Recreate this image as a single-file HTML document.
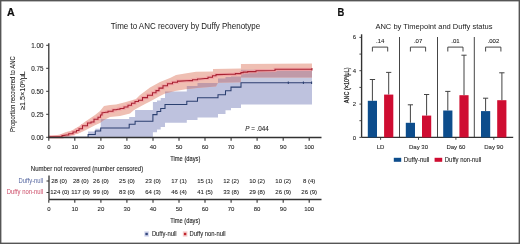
<!DOCTYPE html>
<html><head><meta charset="utf-8"><style>
html,body{margin:0;padding:0;background:#fff;}
svg{display:block;}
text{font-family:"Liberation Sans", sans-serif;}
</style></head><body>
<svg width="520" height="244" viewBox="0 0 520 244">
<defs><filter id="bl" filterUnits="userSpaceOnUse" x="0" y="0" width="520" height="244"><feGaussianBlur stdDeviation="0.3"/></filter></defs>
<rect width="520" height="244" fill="#fff"/>
<g filter="url(#bl)">
<text x="6.9" y="15.9" font-size="10.8" text-anchor="start" fill="#111" font-weight="bold" textLength="7.7" lengthAdjust="spacingAndGlyphs" stroke="#111" stroke-width="0.2">A</text>
<text x="110.8" y="29.3" font-size="8.2" text-anchor="start" fill="#1a1a1a" textLength="149.4" lengthAdjust="spacingAndGlyphs" stroke="none">Time to ANC recovery by Duffy Phenotype</text>
<defs><clipPath id="cb"><polygon points="88.1,131.5 95.3,131.5 95.3,128.7 100.7,128.7 100.7,119.0 129.2,119.0 129.2,117.0 135.1,117.0 135.1,110.0 152.9,110.0 152.9,102.0 157.0,102.0 157.0,100.5 160.7,100.5 160.7,98.0 165.0,98.0 165.0,91.5 186.8,91.5 186.8,86.0 197.5,86.0 197.5,83.0 218.0,83.0 218.0,78.5 225.5,78.5 225.5,77.0 231.0,77.0 231.0,76.5 241.0,76.5 241.0,69.8 312.0,69.8 312.0,104.4 241.0,104.4 241.0,108.0 231.0,108.0 231.0,110.3 225.5,110.3 225.5,114.0 218.0,114.0 218.0,117.6 197.5,117.6 197.5,120.0 186.8,120.0 186.8,122.7 165.0,122.7 165.0,126.9 160.7,126.9 160.7,129.6 157.0,129.6 157.0,132.2 152.9,132.2 152.9,137.3 135.1,137.3 135.1,137.3 129.2,137.3 129.2,137.3 100.7,137.3 100.7,137.3 95.3,137.3 95.3,137.3 88.1,137.3"/></clipPath></defs>
<defs><filter id="bb" filterUnits="userSpaceOnUse" x="40" y="40" width="290" height="105"><feGaussianBlur stdDeviation="0.6"/></filter></defs>
<g filter="url(#bb)">
<polygon points="88.1,131.5 95.3,131.5 95.3,128.7 100.7,128.7 100.7,119.0 129.2,119.0 129.2,117.0 135.1,117.0 135.1,110.0 152.9,110.0 152.9,102.0 157.0,102.0 157.0,100.5 160.7,100.5 160.7,98.0 165.0,98.0 165.0,91.5 186.8,91.5 186.8,86.0 197.5,86.0 197.5,83.0 218.0,83.0 218.0,78.5 225.5,78.5 225.5,77.0 231.0,77.0 231.0,76.5 241.0,76.5 241.0,69.8 312.0,69.8 312.0,104.4 241.0,104.4 241.0,108.0 231.0,108.0 231.0,110.3 225.5,110.3 225.5,114.0 218.0,114.0 218.0,117.6 197.5,117.6 197.5,120.0 186.8,120.0 186.8,122.7 165.0,122.7 165.0,126.9 160.7,126.9 160.7,129.6 157.0,129.6 157.0,132.2 152.9,132.2 152.9,137.3 135.1,137.3 135.1,137.3 129.2,137.3 129.2,137.3 100.7,137.3 100.7,137.3 95.3,137.3 95.3,137.3 88.1,137.3" fill="#bec2de"/>
<rect x="240.9" y="77.5" width="71.1" height="5.3" fill="#c6cae0"/>
<polygon points="48.8,137.3 50.0,136.3 60.0,134.4 66.0,132.1 72.0,130.4 75.0,128.6 78.0,127.0 85.0,121.8 95.0,115.0 100.0,111.0 104.0,106.0 110.0,105.0 116.0,104.5 125.0,102.2 136.0,99.0 140.0,95.0 150.0,87.5 160.0,82.0 170.0,78.0 176.0,75.0 185.0,73.5 196.0,71.8 213.0,71.5 213.0,69.1 240.9,68.5 240.9,64.0 312.0,63.5 312.0,77.5 240.9,77.5 240.9,82.3 218.0,82.8 216.0,86.5 197.0,88.0 186.0,89.2 175.0,91.0 165.0,93.5 160.0,96.0 150.0,101.5 145.0,104.0 134.0,110.0 130.0,113.5 120.0,116.0 110.0,117.0 104.0,120.0 100.0,123.0 95.0,125.2 85.0,130.4 78.0,133.8 75.0,134.5 66.0,137.0 48.8,137.3" fill="#efbfb3"/>
<polygon points="48.8,137.3 50.0,136.3 60.0,134.4 66.0,132.1 72.0,130.4 75.0,128.6 78.0,127.0 85.0,121.8 95.0,115.0 100.0,111.0 104.0,106.0 110.0,105.0 116.0,104.5 125.0,102.2 136.0,99.0 140.0,95.0 150.0,87.5 160.0,82.0 170.0,78.0 176.0,75.0 185.0,73.5 196.0,71.8 213.0,71.5 213.0,69.1 240.9,68.5 240.9,64.0 312.0,63.5 312.0,77.5 240.9,77.5 240.9,82.3 218.0,82.8 216.0,86.5 197.0,88.0 186.0,89.2 175.0,91.0 165.0,93.5 160.0,96.0 150.0,101.5 145.0,104.0 134.0,110.0 130.0,113.5 120.0,116.0 110.0,117.0 104.0,120.0 100.0,123.0 95.0,125.2 85.0,130.4 78.0,133.8 75.0,134.5 66.0,137.0 48.8,137.3" fill="#c09aa8" clip-path="url(#cb)"/>
</g>
<polyline points="48.8,137.3 88.1,137.3 88.1,134.4 95.3,134.4 95.3,131.0 100.7,131.0 100.7,127.9 129.2,127.9 129.2,124.2 135.1,124.2 135.1,121.3 152.9,121.3 152.9,114.6 157.0,114.6 157.0,111.5 160.7,111.5 160.7,108.5 165.0,108.5 165.0,104.5 186.8,104.5 186.8,101.2 197.5,101.2 197.5,97.7 218.0,97.7 218.0,94.7 225.5,94.7 225.5,90.7 231.0,90.7 231.0,87.1 241.0,87.1 241.0,82.8 312.0,82.8" fill="none" stroke="#2c3f70" stroke-width="1.05"/>
<polyline points="48.8,137.3 50.0,136.8 61.0,136.8 62.0,136.8 62.0,135.6 63.0,135.6 66.4,135.0 68.7,135.0 68.7,133.8 71.0,133.8 73.0,133.8 73.0,132.0 75.0,132.0 76.5,132.0 76.5,130.4 78.0,130.4 79.0,130.4 79.0,128.7 80.0,128.7 82.5,128.7 82.5,125.8 85.0,125.8 87.5,125.8 87.5,122.9 90.0,122.9 91.0,122.9 91.0,122.0 92.0,122.0 94.0,122.0 94.0,119.2 96.0,119.2 98.0,119.2 98.0,117.2 100.0,117.2 100.5,117.2 100.5,115.0 101.0,115.0 102.0,115.0 102.0,112.8 103.0,112.8 106.0,112.2 108.0,112.2 108.0,111.3 110.0,111.3 113.0,111.3 113.0,109.8 116.0,109.8 118.0,109.2 120.0,109.2 120.0,108.4 122.0,108.4 124.0,108.4 124.0,107.0 126.0,107.0 128.0,107.0 128.0,105.2 130.0,105.2 131.5,105.2 131.5,103.3 133.0,103.3 135.0,103.3 135.0,101.5 137.0,101.5 138.5,101.5 138.5,100.2 140.0,100.2 142.5,100.2 142.5,97.6 145.0,97.6 147.5,97.6 147.5,95.2 150.0,95.2 152.5,95.2 152.5,92.8 155.0,92.8 156.0,92.8 156.0,90.6 157.0,90.6 159.0,90.6 159.0,88.1 161.0,88.1 163.0,88.1 163.0,85.8 165.0,85.8 167.5,85.8 167.5,83.7 170.0,83.7 172.5,83.7 172.5,82.3 175.0,82.3 177.5,82.3 177.5,81.1 180.0,81.1 190.0,80.6 192.5,80.6 192.5,79.8 195.0,79.8 197.5,79.8 197.5,79.0 200.0,79.0 205.0,78.5 208.0,78.5 208.0,77.3 211.0,77.3 212.5,77.3 212.5,75.8 214.0,75.8 216.0,75.8 216.0,74.6 218.0,74.6 230.0,74.3 235.4,74.3 235.4,73.6 240.9,73.6 240.9,72.6 243.2,72.6 243.2,72.1 247.7,72.1 247.7,71.6 250.0,71.6 256.0,71.6 256.0,70.7 262.0,70.7 275.0,70.5 275.0,69.3 312.0,69.3" fill="none" stroke="#f2a0a4" stroke-opacity="0.8" stroke-width="3.2"/>
<polyline points="48.8,137.3 50.0,136.8 61.0,136.8 62.0,136.8 62.0,135.6 63.0,135.6 66.4,135.0 68.7,135.0 68.7,133.8 71.0,133.8 73.0,133.8 73.0,132.0 75.0,132.0 76.5,132.0 76.5,130.4 78.0,130.4 79.0,130.4 79.0,128.7 80.0,128.7 82.5,128.7 82.5,125.8 85.0,125.8 87.5,125.8 87.5,122.9 90.0,122.9 91.0,122.9 91.0,122.0 92.0,122.0 94.0,122.0 94.0,119.2 96.0,119.2 98.0,119.2 98.0,117.2 100.0,117.2 100.5,117.2 100.5,115.0 101.0,115.0 102.0,115.0 102.0,112.8 103.0,112.8 106.0,112.2 108.0,112.2 108.0,111.3 110.0,111.3 113.0,111.3 113.0,109.8 116.0,109.8 118.0,109.2 120.0,109.2 120.0,108.4 122.0,108.4 124.0,108.4 124.0,107.0 126.0,107.0 128.0,107.0 128.0,105.2 130.0,105.2 131.5,105.2 131.5,103.3 133.0,103.3 135.0,103.3 135.0,101.5 137.0,101.5 138.5,101.5 138.5,100.2 140.0,100.2 142.5,100.2 142.5,97.6 145.0,97.6 147.5,97.6 147.5,95.2 150.0,95.2 152.5,95.2 152.5,92.8 155.0,92.8 156.0,92.8 156.0,90.6 157.0,90.6 159.0,90.6 159.0,88.1 161.0,88.1 163.0,88.1 163.0,85.8 165.0,85.8 167.5,85.8 167.5,83.7 170.0,83.7 172.5,83.7 172.5,82.3 175.0,82.3 177.5,82.3 177.5,81.1 180.0,81.1 190.0,80.6 192.5,80.6 192.5,79.8 195.0,79.8 197.5,79.8 197.5,79.0 200.0,79.0 205.0,78.5 208.0,78.5 208.0,77.3 211.0,77.3 212.5,77.3 212.5,75.8 214.0,75.8 216.0,75.8 216.0,74.6 218.0,74.6 230.0,74.3 235.4,74.3 235.4,73.6 240.9,73.6 240.9,72.6 243.2,72.6 243.2,72.1 247.7,72.1 247.7,71.6 250.0,71.6 256.0,71.6 256.0,70.7 262.0,70.7 275.0,70.5 275.0,69.3 312.0,69.3" fill="none" stroke="#a82232" stroke-width="1.05"/>
<line x1="288.3" y1="81.6" x2="288.3" y2="84" stroke="#2c3f70" stroke-width="1.05"/>
<line x1="303.4" y1="81.6" x2="303.4" y2="84" stroke="#2c3f70" stroke-width="1.05"/>
<line x1="311.6" y1="81.6" x2="311.6" y2="84" stroke="#2c3f70" stroke-width="1.05"/>
<line x1="312" y1="68" x2="312" y2="70.4" stroke="#a82232" stroke-width="1.05"/>
<line x1="48.8" y1="43.3" x2="48.8" y2="137.5" stroke="#333" stroke-width="1.3"/>
<line x1="48.2" y1="137.5" x2="321.5" y2="137.5" stroke="#333" stroke-width="1.3"/>
<line x1="46.2" y1="137.3" x2="48.8" y2="137.3" stroke="#333" stroke-width="1"/>
<text x="43.4" y="139.5" font-size="6.3" text-anchor="end" fill="#222" stroke="#222" stroke-width="0.08">0.00</text>
<line x1="46.2" y1="114.3" x2="48.8" y2="114.3" stroke="#333" stroke-width="1"/>
<text x="43.4" y="116.50000000000001" font-size="6.3" text-anchor="end" fill="#222" stroke="#222" stroke-width="0.08">0.25</text>
<line x1="46.2" y1="91.3" x2="48.8" y2="91.3" stroke="#333" stroke-width="1"/>
<text x="43.4" y="93.50000000000001" font-size="6.3" text-anchor="end" fill="#222" stroke="#222" stroke-width="0.08">0.50</text>
<line x1="46.2" y1="68.3" x2="48.8" y2="68.3" stroke="#333" stroke-width="1"/>
<text x="43.4" y="70.50000000000001" font-size="6.3" text-anchor="end" fill="#222" stroke="#222" stroke-width="0.08">0.75</text>
<line x1="46.2" y1="45.3" x2="48.8" y2="45.3" stroke="#333" stroke-width="1"/>
<text x="43.4" y="47.500000000000014" font-size="6.3" text-anchor="end" fill="#222" stroke="#222" stroke-width="0.08">1.00</text>
<line x1="48.8" y1="137.5" x2="48.8" y2="140.8" stroke="#333" stroke-width="1.1"/>
<text x="48.8" y="149.1" font-size="6" text-anchor="middle" fill="#222" stroke="#222" stroke-width="0.08">0</text>
<line x1="74.8" y1="137.5" x2="74.8" y2="140.8" stroke="#333" stroke-width="1.1"/>
<text x="74.8" y="149.1" font-size="6" text-anchor="middle" fill="#222" stroke="#222" stroke-width="0.08">10</text>
<line x1="100.9" y1="137.5" x2="100.9" y2="140.8" stroke="#333" stroke-width="1.1"/>
<text x="100.9" y="149.1" font-size="6" text-anchor="middle" fill="#222" stroke="#222" stroke-width="0.08">20</text>
<line x1="126.9" y1="137.5" x2="126.9" y2="140.8" stroke="#333" stroke-width="1.1"/>
<text x="126.9" y="149.1" font-size="6" text-anchor="middle" fill="#222" stroke="#222" stroke-width="0.08">30</text>
<line x1="153.0" y1="137.5" x2="153.0" y2="140.8" stroke="#333" stroke-width="1.1"/>
<text x="153.0" y="149.1" font-size="6" text-anchor="middle" fill="#222" stroke="#222" stroke-width="0.08">40</text>
<line x1="179.0" y1="137.5" x2="179.0" y2="140.8" stroke="#333" stroke-width="1.1"/>
<text x="179.0" y="149.1" font-size="6" text-anchor="middle" fill="#222" stroke="#222" stroke-width="0.08">50</text>
<line x1="205.0" y1="137.5" x2="205.0" y2="140.8" stroke="#333" stroke-width="1.1"/>
<text x="205.0" y="149.1" font-size="6" text-anchor="middle" fill="#222" stroke="#222" stroke-width="0.08">60</text>
<line x1="231.1" y1="137.5" x2="231.1" y2="140.8" stroke="#333" stroke-width="1.1"/>
<text x="231.1" y="149.1" font-size="6" text-anchor="middle" fill="#222" stroke="#222" stroke-width="0.08">70</text>
<line x1="257.1" y1="137.5" x2="257.1" y2="140.8" stroke="#333" stroke-width="1.1"/>
<text x="257.1" y="149.1" font-size="6" text-anchor="middle" fill="#222" stroke="#222" stroke-width="0.08">80</text>
<line x1="283.2" y1="137.5" x2="283.2" y2="140.8" stroke="#333" stroke-width="1.1"/>
<text x="283.2" y="149.1" font-size="6" text-anchor="middle" fill="#222" stroke="#222" stroke-width="0.08">90</text>
<line x1="309.2" y1="137.5" x2="309.2" y2="140.8" stroke="#333" stroke-width="1.1"/>
<text x="309.2" y="149.1" font-size="6" text-anchor="middle" fill="#222" stroke="#222" stroke-width="0.08">100</text>
<text x="185.3" y="161.0" font-size="7.9" text-anchor="middle" fill="#222" textLength="30" lengthAdjust="spacingAndGlyphs" stroke="#222" stroke-width="0.12">Time (days)</text>
<text x="245.2" y="131.0" font-size="6.4" text-anchor="start" fill="#222" textLength="23.6" lengthAdjust="spacingAndGlyphs" stroke="#222" stroke-width="0.08"><tspan font-style="italic">P</tspan> = .044</text>
<g transform="translate(14.6,94.1) rotate(-90)"><text x="0" y="0" font-size="7.4" text-anchor="middle" fill="#222" textLength="75.6" lengthAdjust="spacingAndGlyphs" stroke="#222" stroke-width="0.08">Proportion recovered to ANC</text></g>
<g transform="translate(24.9,90.6) rotate(-90)"><text x="0" y="0" font-size="7.3" text-anchor="middle" fill="#222" textLength="39" lengthAdjust="spacingAndGlyphs" stroke="#222" stroke-width="0.08">≥1.5×10<tspan font-size="4.4" dy="-2.2">9</tspan><tspan dy="2.2">/μL</tspan></text></g>
<text x="30.8" y="170.8" font-size="6.3" text-anchor="start" fill="#222" textLength="112.4" lengthAdjust="spacingAndGlyphs" stroke="#222" stroke-width="0.08">Number not recovered (number censored)</text>
<text x="43.2" y="182.8" font-size="6.6" text-anchor="end" fill="#5566a0" textLength="24.6" lengthAdjust="spacingAndGlyphs" stroke="none">Duffy-null</text>
<text x="43.2" y="194.1" font-size="6.6" text-anchor="end" fill="#cc4a66" textLength="36.4" lengthAdjust="spacingAndGlyphs" stroke="none">Duffy non-null</text>
<line x1="49" y1="175.5" x2="49" y2="199.5" stroke="#333" stroke-width="1.3"/>
<line x1="49" y1="199.5" x2="321.5" y2="199.5" stroke="#333" stroke-width="1.3"/>
<line x1="46.5" y1="181" x2="49" y2="181" stroke="#333" stroke-width="1"/>
<line x1="46.5" y1="192.5" x2="49" y2="192.5" stroke="#333" stroke-width="1"/>
<text x="59.1" y="182.5" font-size="6" text-anchor="middle" fill="#222" stroke="#222" stroke-width="0.08">28 (0)</text>
<text x="59.8" y="193.8" font-size="6" text-anchor="middle" fill="#222" stroke="#222" stroke-width="0.08">124 (0)</text>
<text x="80.8" y="182.5" font-size="6" text-anchor="middle" fill="#222" stroke="#222" stroke-width="0.08">28 (0)</text>
<text x="80.6" y="193.8" font-size="6" text-anchor="middle" fill="#222" stroke="#222" stroke-width="0.08">117 (0)</text>
<text x="100.9" y="182.5" font-size="6" text-anchor="middle" fill="#222" stroke="#222" stroke-width="0.08">26 (0)</text>
<text x="100.9" y="193.8" font-size="6" text-anchor="middle" fill="#222" stroke="#222" stroke-width="0.08">99 (0)</text>
<text x="126.9" y="182.5" font-size="6" text-anchor="middle" fill="#222" stroke="#222" stroke-width="0.08">25 (0)</text>
<text x="126.9" y="193.8" font-size="6" text-anchor="middle" fill="#222" stroke="#222" stroke-width="0.08">83 (0)</text>
<text x="153.0" y="182.5" font-size="6" text-anchor="middle" fill="#222" stroke="#222" stroke-width="0.08">23 (0)</text>
<text x="153.0" y="193.8" font-size="6" text-anchor="middle" fill="#222" stroke="#222" stroke-width="0.08">64 (3)</text>
<text x="179.0" y="182.5" font-size="6" text-anchor="middle" fill="#222" stroke="#222" stroke-width="0.08">17 (1)</text>
<text x="179.0" y="193.8" font-size="6" text-anchor="middle" fill="#222" stroke="#222" stroke-width="0.08">46 (4)</text>
<text x="205.0" y="182.5" font-size="6" text-anchor="middle" fill="#222" stroke="#222" stroke-width="0.08">15 (1)</text>
<text x="205.0" y="193.8" font-size="6" text-anchor="middle" fill="#222" stroke="#222" stroke-width="0.08">41 (5)</text>
<text x="231.1" y="182.5" font-size="6" text-anchor="middle" fill="#222" stroke="#222" stroke-width="0.08">12 (2)</text>
<text x="231.1" y="193.8" font-size="6" text-anchor="middle" fill="#222" stroke="#222" stroke-width="0.08">33 (8)</text>
<text x="257.1" y="182.5" font-size="6" text-anchor="middle" fill="#222" stroke="#222" stroke-width="0.08">10 (2)</text>
<text x="257.1" y="193.8" font-size="6" text-anchor="middle" fill="#222" stroke="#222" stroke-width="0.08">29 (8)</text>
<text x="283.2" y="182.5" font-size="6" text-anchor="middle" fill="#222" stroke="#222" stroke-width="0.08">10 (2)</text>
<text x="283.2" y="193.8" font-size="6" text-anchor="middle" fill="#222" stroke="#222" stroke-width="0.08">26 (9)</text>
<text x="309.2" y="182.5" font-size="6" text-anchor="middle" fill="#222" stroke="#222" stroke-width="0.08">8 (4)</text>
<text x="309.2" y="193.8" font-size="6" text-anchor="middle" fill="#222" stroke="#222" stroke-width="0.08">26 (9)</text>
<line x1="48.8" y1="199.5" x2="48.8" y2="202.8" stroke="#333" stroke-width="1.1"/>
<text x="48.8" y="210.8" font-size="6" text-anchor="middle" fill="#222" stroke="#222" stroke-width="0.08">0</text>
<line x1="74.8" y1="199.5" x2="74.8" y2="202.8" stroke="#333" stroke-width="1.1"/>
<text x="74.8" y="210.8" font-size="6" text-anchor="middle" fill="#222" stroke="#222" stroke-width="0.08">10</text>
<line x1="100.9" y1="199.5" x2="100.9" y2="202.8" stroke="#333" stroke-width="1.1"/>
<text x="100.9" y="210.8" font-size="6" text-anchor="middle" fill="#222" stroke="#222" stroke-width="0.08">20</text>
<line x1="126.9" y1="199.5" x2="126.9" y2="202.8" stroke="#333" stroke-width="1.1"/>
<text x="126.9" y="210.8" font-size="6" text-anchor="middle" fill="#222" stroke="#222" stroke-width="0.08">30</text>
<line x1="153.0" y1="199.5" x2="153.0" y2="202.8" stroke="#333" stroke-width="1.1"/>
<text x="153.0" y="210.8" font-size="6" text-anchor="middle" fill="#222" stroke="#222" stroke-width="0.08">40</text>
<line x1="179.0" y1="199.5" x2="179.0" y2="202.8" stroke="#333" stroke-width="1.1"/>
<text x="179.0" y="210.8" font-size="6" text-anchor="middle" fill="#222" stroke="#222" stroke-width="0.08">50</text>
<line x1="205.0" y1="199.5" x2="205.0" y2="202.8" stroke="#333" stroke-width="1.1"/>
<text x="205.0" y="210.8" font-size="6" text-anchor="middle" fill="#222" stroke="#222" stroke-width="0.08">60</text>
<line x1="231.1" y1="199.5" x2="231.1" y2="202.8" stroke="#333" stroke-width="1.1"/>
<text x="231.1" y="210.8" font-size="6" text-anchor="middle" fill="#222" stroke="#222" stroke-width="0.08">70</text>
<line x1="257.1" y1="199.5" x2="257.1" y2="202.8" stroke="#333" stroke-width="1.1"/>
<text x="257.1" y="210.8" font-size="6" text-anchor="middle" fill="#222" stroke="#222" stroke-width="0.08">80</text>
<line x1="283.2" y1="199.5" x2="283.2" y2="202.8" stroke="#333" stroke-width="1.1"/>
<text x="283.2" y="210.8" font-size="6" text-anchor="middle" fill="#222" stroke="#222" stroke-width="0.08">90</text>
<line x1="309.2" y1="199.5" x2="309.2" y2="202.8" stroke="#333" stroke-width="1.1"/>
<text x="309.2" y="210.8" font-size="6" text-anchor="middle" fill="#222" stroke="#222" stroke-width="0.08">100</text>
<text x="185.2" y="222.9" font-size="7.9" text-anchor="middle" fill="#222" textLength="30" lengthAdjust="spacingAndGlyphs" stroke="#222" stroke-width="0.12">Time (days)</text>
<rect x="144.3" y="231.3" width="4.6" height="5.4" fill="#d4d8ee"/><rect x="145.4" y="232.8" width="2.4" height="2.4" fill="#34487e"/>
<text x="151.9" y="236.3" font-size="6.5" text-anchor="start" fill="#222" textLength="24.6" lengthAdjust="spacingAndGlyphs" stroke="#222" stroke-width="0.08">Duffy-null</text>
<rect x="182.8" y="231.3" width="4.6" height="5.4" fill="#f6d0d0"/><rect x="183.9" y="232.8" width="2.4" height="2.4" fill="#c0282d"/>
<text x="189.6" y="236.3" font-size="6.5" text-anchor="start" fill="#222" textLength="36" lengthAdjust="spacingAndGlyphs" stroke="#222" stroke-width="0.08">Duffy non-null</text>
<text x="337.4" y="15.6" font-size="10.6" text-anchor="start" fill="#111" font-weight="bold" textLength="6.8" lengthAdjust="spacingAndGlyphs" stroke="#111" stroke-width="0.2">B</text>
<text x="375.4" y="28.9" font-size="7.9" text-anchor="start" fill="#1a1a1a" textLength="117.1" lengthAdjust="spacingAndGlyphs" stroke="none">ANC by Timepoint and Duffy status</text>
<line x1="361.6" y1="34.3" x2="361.6" y2="137.4" stroke="#333" stroke-width="1.35"/>
<line x1="359.4" y1="137.4" x2="361.6" y2="137.4" stroke="#333" stroke-width="0.9"/>
<text x="356.2" y="139.5" font-size="6" text-anchor="end" fill="#222" stroke="#222" stroke-width="0.08">0</text>
<line x1="359.4" y1="120.7" x2="361.6" y2="120.7" stroke="#333" stroke-width="0.9"/>
<line x1="359.4" y1="104.1" x2="361.6" y2="104.1" stroke="#333" stroke-width="0.9"/>
<text x="356.2" y="106.166" font-size="6" text-anchor="end" fill="#222" stroke="#222" stroke-width="0.08">2</text>
<line x1="359.4" y1="87.4" x2="361.6" y2="87.4" stroke="#333" stroke-width="0.9"/>
<line x1="359.4" y1="70.7" x2="361.6" y2="70.7" stroke="#333" stroke-width="0.9"/>
<text x="356.2" y="72.832" font-size="6" text-anchor="end" fill="#222" stroke="#222" stroke-width="0.08">4</text>
<line x1="359.4" y1="54.1" x2="361.6" y2="54.1" stroke="#333" stroke-width="0.9"/>
<line x1="359.4" y1="37.4" x2="361.6" y2="37.4" stroke="#333" stroke-width="0.9"/>
<text x="356.2" y="39.498" font-size="6" text-anchor="end" fill="#222" stroke="#222" stroke-width="0.08">6</text>
<line x1="399.5" y1="37" x2="399.5" y2="137.4" stroke="#444" stroke-width="1"/>
<line x1="437.5" y1="37" x2="437.5" y2="137.4" stroke="#444" stroke-width="1"/>
<line x1="474.3" y1="37" x2="474.3" y2="137.4" stroke="#444" stroke-width="1"/>
<line x1="361.6" y1="137.4" x2="513.2" y2="137.4" stroke="#333" stroke-width="1.2"/>
<line x1="372.4" y1="79.5" x2="372.4" y2="100.8" stroke="#444" stroke-width="1"/>
<line x1="369.8" y1="79.5" x2="375.1" y2="79.5" stroke="#444" stroke-width="1"/>
<line x1="388.7" y1="72.4" x2="388.7" y2="94.6" stroke="#444" stroke-width="1"/>
<line x1="386.1" y1="72.4" x2="391.3" y2="72.4" stroke="#444" stroke-width="1"/>
<rect x="367.8" y="100.8" width="9.2" height="36.6" fill="#0e4d8c"/>
<rect x="384.1" y="94.6" width="9.2" height="42.8" fill="#cf1030"/>
<line x1="380.6" y1="137.4" x2="380.6" y2="139.8" stroke="#333" stroke-width="0.9"/>
<text x="380.6" y="149.2" font-size="6" text-anchor="middle" fill="#222" stroke="#222" stroke-width="0.08">LD</text>
<polyline points="372.4,51.5 372.4,47.1 387.7,47.1 387.7,51.5" fill="none" stroke="#333" stroke-width="0.9"/>
<text x="380.2" y="42.5" font-size="6" text-anchor="middle" fill="#222" stroke="#222" stroke-width="0.08">.14</text>
<line x1="410.4" y1="104.8" x2="410.4" y2="122.8" stroke="#444" stroke-width="1"/>
<line x1="407.8" y1="104.8" x2="413.0" y2="104.8" stroke="#444" stroke-width="1"/>
<line x1="426.6" y1="94.5" x2="426.6" y2="115.6" stroke="#444" stroke-width="1"/>
<line x1="424.0" y1="94.5" x2="429.2" y2="94.5" stroke="#444" stroke-width="1"/>
<rect x="405.8" y="122.8" width="9.2" height="14.6" fill="#0e4d8c"/>
<rect x="422.0" y="115.6" width="9.2" height="21.8" fill="#cf1030"/>
<line x1="418.5" y1="137.4" x2="418.5" y2="139.8" stroke="#333" stroke-width="0.9"/>
<text x="418.5" y="149.2" font-size="6" text-anchor="middle" fill="#222" stroke="#222" stroke-width="0.08">Day 30</text>
<polyline points="410.4,51.5 410.4,47.1 425.6,47.1 425.6,51.5" fill="none" stroke="#333" stroke-width="0.9"/>
<text x="418.1" y="42.5" font-size="6" text-anchor="middle" fill="#222" stroke="#222" stroke-width="0.08">.07</text>
<line x1="447.8" y1="91.4" x2="447.8" y2="110.5" stroke="#444" stroke-width="1"/>
<line x1="445.2" y1="91.4" x2="450.4" y2="91.4" stroke="#444" stroke-width="1"/>
<line x1="464.0" y1="55.2" x2="464.0" y2="95.2" stroke="#444" stroke-width="1"/>
<line x1="461.4" y1="55.2" x2="466.6" y2="55.2" stroke="#444" stroke-width="1"/>
<rect x="443.2" y="110.5" width="9.2" height="26.9" fill="#0e4d8c"/>
<rect x="459.4" y="95.2" width="9.2" height="42.2" fill="#cf1030"/>
<line x1="455.9" y1="137.4" x2="455.9" y2="139.8" stroke="#333" stroke-width="0.9"/>
<text x="455.9" y="149.2" font-size="6" text-anchor="middle" fill="#222" stroke="#222" stroke-width="0.08">Day 60</text>
<polyline points="447.8,51.5 447.8,47.1 463.0,47.1 463.0,51.5" fill="none" stroke="#333" stroke-width="0.9"/>
<text x="455.5" y="42.5" font-size="6" text-anchor="middle" fill="#222" stroke="#222" stroke-width="0.08">.01</text>
<line x1="485.6" y1="98.2" x2="485.6" y2="111.1" stroke="#444" stroke-width="1"/>
<line x1="483.0" y1="98.2" x2="488.2" y2="98.2" stroke="#444" stroke-width="1"/>
<line x1="501.9" y1="72.8" x2="501.9" y2="100.2" stroke="#444" stroke-width="1"/>
<line x1="499.2" y1="72.8" x2="504.5" y2="72.8" stroke="#444" stroke-width="1"/>
<rect x="481.0" y="111.1" width="9.2" height="26.3" fill="#0e4d8c"/>
<rect x="497.2" y="100.2" width="9.2" height="37.2" fill="#cf1030"/>
<line x1="493.8" y1="137.4" x2="493.8" y2="139.8" stroke="#333" stroke-width="0.9"/>
<text x="493.8" y="149.2" font-size="6" text-anchor="middle" fill="#222" stroke="#222" stroke-width="0.08">Day 90</text>
<polyline points="485.6,51.5 485.6,47.1 500.9,47.1 500.9,51.5" fill="none" stroke="#333" stroke-width="0.9"/>
<text x="493.4" y="42.5" font-size="6" text-anchor="middle" fill="#222" stroke="#222" stroke-width="0.08">.002</text>
<g transform="translate(348.9,85.3) rotate(-90)"><text x="0" y="0" font-size="7" text-anchor="middle" fill="#222" textLength="36" lengthAdjust="spacingAndGlyphs" stroke="#222" stroke-width="0.2">ANC (×10<tspan font-size="4.4" dy="-2.2">9</tspan><tspan dy="2.2">/μL)</tspan></text></g>
<rect x="393.8" y="157.8" width="7.4" height="4" fill="#0e4d8c"/>
<text x="403.8" y="162.3" font-size="6.6" text-anchor="start" fill="#222" textLength="25.6" lengthAdjust="spacingAndGlyphs" stroke="#222" stroke-width="0.08">Duffy-null</text>
<rect x="434.6" y="157.8" width="7.6" height="4" fill="#cf1030"/>
<text x="444.8" y="162.3" font-size="6.6" text-anchor="start" fill="#222" textLength="36.5" lengthAdjust="spacingAndGlyphs" stroke="#222" stroke-width="0.08">Duffy non-null</text>
</g>
<rect x="0.7" y="0.7" width="518.6" height="242.6" fill="none" stroke="#555" stroke-width="1.4"/>
</svg>
</body></html>
